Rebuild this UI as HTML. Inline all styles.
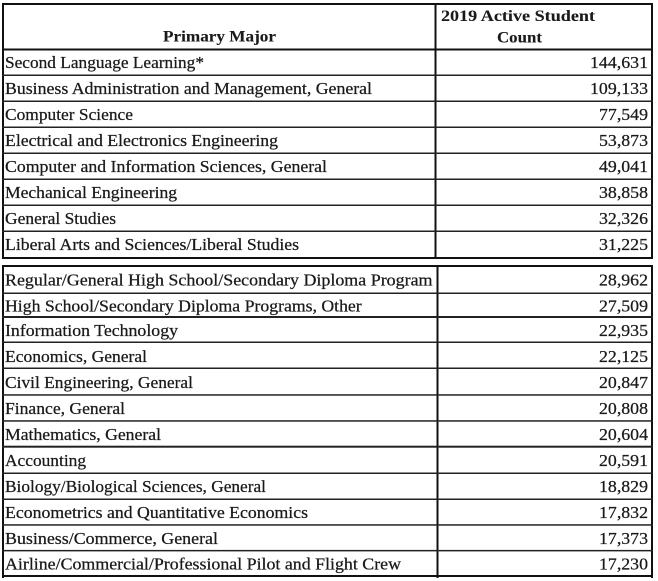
<!DOCTYPE html>
<html>
<head>
<meta charset="utf-8">
<style>
html,body{margin:0;padding:0;background:#fff;}
svg{display:block;}
text{font-family:"Liberation Serif",serif;font-size:16.5px;fill:#1a1a1a;stroke:#1a1a1a;stroke-width:0.25px;}
.b{font-weight:bold;font-size:16px;stroke-width:0.1px;}
</style>
</head>
<body>
<svg width="658" height="581" viewBox="0 0 658 581" xmlns="http://www.w3.org/2000/svg">
<rect x="0" y="0" width="658" height="581" fill="#fff"/>
<!-- Table 1 borders -->
<g fill="#111">
<rect x="2" y="3" width="651" height="2"/>
<rect x="2" y="3" width="2" height="256"/>
<rect x="651" y="3" width="2" height="256"/>
<rect x="434.5" y="3" width="2" height="256"/>
<rect x="2" y="48.5" width="651" height="2"/>
<rect x="2" y="257" width="651" height="2"/>
</g>
<g fill="#222">
<rect x="2" y="74.5" width="651" height="1.5"/>
<rect x="2" y="100.5" width="651" height="1.5"/>
<rect x="2" y="126.5" width="651" height="1.5"/>
<rect x="2" y="152.5" width="651" height="1.5"/>
<rect x="2" y="178.5" width="651" height="1.5"/>
<rect x="2" y="204.5" width="651" height="1.5"/>
<rect x="2" y="230.5" width="651" height="1.5"/>
</g>
<!-- Table 2 borders -->
<g fill="#111">
<rect x="2" y="265" width="651" height="2"/>
<rect x="2" y="265" width="2" height="313"/>
<rect x="651" y="265" width="2" height="313"/>
<rect x="436.5" y="265" width="2" height="313"/>
<rect x="2" y="575" width="651" height="2"/>
</g>
<g fill="#222">
<rect x="2" y="292.5" width="651" height="1.5"/>
<rect x="2" y="316" width="651" height="2"/>
<rect x="2" y="341.5" width="651" height="1.5"/>
<rect x="2" y="367.5" width="651" height="1.5"/>
<rect x="2" y="394.2" width="651" height="1.5"/>
<rect x="2" y="420.2" width="651" height="1.5"/>
<rect x="2" y="445.7" width="651" height="2"/>
<rect x="2" y="472.5" width="651" height="1.5"/>
<rect x="2" y="498.5" width="651" height="1.5"/>
<rect x="2" y="524.2" width="651" height="1.5"/>
<rect x="2" y="549.9" width="651" height="1.5"/>
</g>
<!-- Header -->
<text class="b" x="163" y="41.7" textLength="113" lengthAdjust="spacingAndGlyphs">Primary Major</text>
<text class="b" x="441" y="21" textLength="154" lengthAdjust="spacingAndGlyphs">2019 Active Student</text>
<text class="b" x="497" y="42.5" textLength="45" lengthAdjust="spacingAndGlyphs">Count</text>
<!-- Table 1 rows -->
<g>
<text x="5" y="68" textLength="199" lengthAdjust="spacingAndGlyphs">Second Language Learning*</text>
<text x="5" y="94" textLength="367" lengthAdjust="spacingAndGlyphs">Business Administration and Management, General</text>
<text x="5" y="120" textLength="128" lengthAdjust="spacingAndGlyphs">Computer Science</text>
<text x="5" y="146" textLength="273" lengthAdjust="spacingAndGlyphs">Electrical and Electronics Engineering</text>
<text x="5" y="172" textLength="322" lengthAdjust="spacingAndGlyphs">Computer and Information Sciences, General</text>
<text x="5" y="198" textLength="172" lengthAdjust="spacingAndGlyphs">Mechanical Engineering</text>
<text x="5" y="224" textLength="111" lengthAdjust="spacingAndGlyphs">General Studies</text>
<text x="5" y="250" textLength="294" lengthAdjust="spacingAndGlyphs">Liberal Arts and Sciences/Liberal Studies</text>
</g>
<g text-anchor="end">
<text x="648" y="68" textLength="58" lengthAdjust="spacingAndGlyphs">144,631</text>
<text x="648" y="94" textLength="58" lengthAdjust="spacingAndGlyphs">109,133</text>
<text x="648" y="120" textLength="49" lengthAdjust="spacingAndGlyphs">77,549</text>
<text x="648" y="146" textLength="49" lengthAdjust="spacingAndGlyphs">53,873</text>
<text x="648" y="172" textLength="49" lengthAdjust="spacingAndGlyphs">49,041</text>
<text x="648" y="198" textLength="49" lengthAdjust="spacingAndGlyphs">38,858</text>
<text x="648" y="224" textLength="49" lengthAdjust="spacingAndGlyphs">32,326</text>
<text x="648" y="250" textLength="49" lengthAdjust="spacingAndGlyphs">31,225</text>
</g>
<!-- Table 2 rows -->
<g>
<text x="5" y="285.5" textLength="427.5" lengthAdjust="spacingAndGlyphs">Regular/General High School/Secondary Diploma Program</text>
<text x="5" y="311.5" textLength="356.7" lengthAdjust="spacingAndGlyphs">High School/Secondary Diploma Programs, Other</text>
<text x="5" y="336" textLength="173" lengthAdjust="spacingAndGlyphs">Information Technology</text>
<text x="5" y="362" textLength="142" lengthAdjust="spacingAndGlyphs">Economics, General</text>
<text x="5" y="388" textLength="188" lengthAdjust="spacingAndGlyphs">Civil Engineering, General</text>
<text x="5" y="414" textLength="120" lengthAdjust="spacingAndGlyphs">Finance, General</text>
<text x="5" y="440" textLength="156" lengthAdjust="spacingAndGlyphs">Mathematics, General</text>
<text x="5" y="466" textLength="81" lengthAdjust="spacingAndGlyphs">Accounting</text>
<text x="5" y="492" textLength="261" lengthAdjust="spacingAndGlyphs">Biology/Biological Sciences, General</text>
<text x="5" y="518" textLength="303" lengthAdjust="spacingAndGlyphs">Econometrics and Quantitative  Economics</text>
<text x="5" y="544" textLength="213" lengthAdjust="spacingAndGlyphs">Business/Commerce, General</text>
<text x="5" y="569.5" textLength="396" lengthAdjust="spacingAndGlyphs">Airline/Commercial/Professional Pilot and Flight Crew</text>
</g>
<g text-anchor="end">
<text x="648" y="285.5" textLength="49" lengthAdjust="spacingAndGlyphs">28,962</text>
<text x="648" y="311.5" textLength="49" lengthAdjust="spacingAndGlyphs">27,509</text>
<text x="648" y="336" textLength="49" lengthAdjust="spacingAndGlyphs">22,935</text>
<text x="648" y="362" textLength="49" lengthAdjust="spacingAndGlyphs">22,125</text>
<text x="648" y="388" textLength="49" lengthAdjust="spacingAndGlyphs">20,847</text>
<text x="648" y="414" textLength="49" lengthAdjust="spacingAndGlyphs">20,808</text>
<text x="648" y="440" textLength="49" lengthAdjust="spacingAndGlyphs">20,604</text>
<text x="648" y="466" textLength="49" lengthAdjust="spacingAndGlyphs">20,591</text>
<text x="648" y="492" textLength="49" lengthAdjust="spacingAndGlyphs">18,829</text>
<text x="648" y="518" textLength="49" lengthAdjust="spacingAndGlyphs">17,832</text>
<text x="648" y="544" textLength="49" lengthAdjust="spacingAndGlyphs">17,373</text>
<text x="648" y="569.5" textLength="49" lengthAdjust="spacingAndGlyphs">17,230</text>
</g>
</svg>
</body>
</html>
